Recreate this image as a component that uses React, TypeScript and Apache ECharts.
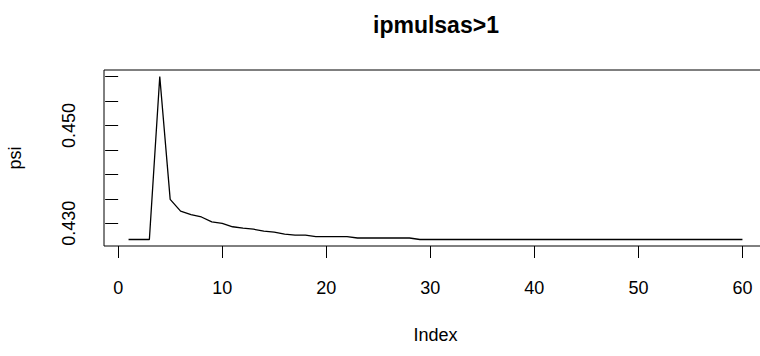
import React, { useEffect, useRef } from "react";
import * as echarts from "echarts";

// psi per index (1..60)
const psi: number[] = [
  0.4267, 0.4267, 0.4267, 0.4600, 0.4349, 0.4325, 0.4318, 0.4313, 0.4303, 0.4300,
  0.4293, 0.4290, 0.4288, 0.4284, 0.4282, 0.4278, 0.4276, 0.4276, 0.4273, 0.4273,
  0.4273, 0.4273, 0.4270, 0.4270, 0.4270, 0.4270, 0.4270, 0.4270, 0.4267, 0.4267,
  0.4267, 0.4267, 0.4267, 0.4267, 0.4267, 0.4267, 0.4267, 0.4267, 0.4267, 0.4267,
  0.4267, 0.4267, 0.4267, 0.4267, 0.4267, 0.4267, 0.4267, 0.4267, 0.4267, 0.4267,
  0.4267, 0.4267, 0.4267, 0.4267, 0.4267, 0.4267, 0.4267, 0.4267, 0.4267, 0.4267,
];

const xTicks: number[] = [0, 10, 20, 30, 40, 50, 60];
const yTicks: number[] = [0.43, 0.435, 0.44, 0.445, 0.45, 0.455, 0.46];
const yLabels: number[] = [0.43, 0.45];

const titleText = "ipmulsas>1";
const xName = "Index";
const yName = "psi";

const FONT = "Liberation Sans, Arial, sans-serif";

export default function App() {
  const ref = useRef<HTMLDivElement>(null);

  useEffect(() => {
    if (!ref.current) return;
    const chart = echarts.init(ref.current, null, { renderer: "svg" });

    // R-style 4% padding around the data range
    const n = psi.length;
    const xPad = (n - 1) * 0.04;
    const yMin = Math.min(...psi);
    const yMax = Math.max(...psi);
    const yPad = (yMax - yMin) * 0.04;

    chart.setOption({
      animation: false,
      backgroundColor: "#ffffff",
      title: {
        text: titleText,
        left: 368,
        top: 8,
        textStyle: {
          fontFamily: FONT,
          fontWeight: "bold",
          fontSize: 23,
          color: "#000",
        },
      },
      grid: {
        left: 104,
        top: 70,
        bottom: 110,
        right: -7,
        outerBoundsMode: "none",
        containLabel: false,
        show: true,
        borderColor: "#000",
        borderWidth: 1,
        backgroundColor: "transparent",
      },
      xAxis: {
        type: "value",
        min: 1 - xPad,
        max: n + xPad,
        name: xName,
        nameLocation: "middle",
        nameGap: 80,
        nameTextStyle: { fontFamily: FONT, fontSize: 18, color: "#000" },
        axisLine: { show: false },
        splitLine: { show: false },
        axisTick: {
          show: true,
          inside: false,
          length: 12,
          lineStyle: { color: "#000", width: 1 },
          customValues: xTicks,
        },
        axisLabel: {
          fontFamily: FONT,
          fontSize: 18,
          color: "#000",
          margin: 33,
          customValues: xTicks,
          formatter: (v: number) => String(v),
        },
      },
      yAxis: {
        type: "value",
        min: yMin - yPad,
        max: yMax + yPad,
        name: yName,
        nameLocation: "middle",
        nameGap: 80,
        nameRotate: 90,
        nameTextStyle: { fontFamily: FONT, fontSize: 18, color: "#000" },
        axisLine: { show: false },
        splitLine: { show: false },
        axisTick: {
          show: true,
          inside: false,
          length: 13,
          lineStyle: { color: "#000", width: 1 },
          customValues: yTicks,
        },
        axisLabel: {
          fontFamily: FONT,
          fontSize: 18,
          color: "#000",
          rotate: 90,
          margin: 26,
          customValues: yLabels,
          formatter: (v: number) => v.toFixed(3),
        },
      },
      series: [
        {
          type: "line",
          data: psi.map((v, i) => [i + 1, v]),
          showSymbol: false,
          symbol: "none",
          lineStyle: { color: "#000", width: 1.3 },
          silent: true,
        },
      ],
    });

    return () => chart.dispose();
  }, []);

  return (
    <div
      ref={ref}
      style={{ position: "absolute", left: 0, top: 0, width: 760, height: 356 }}
    />
  );
}
